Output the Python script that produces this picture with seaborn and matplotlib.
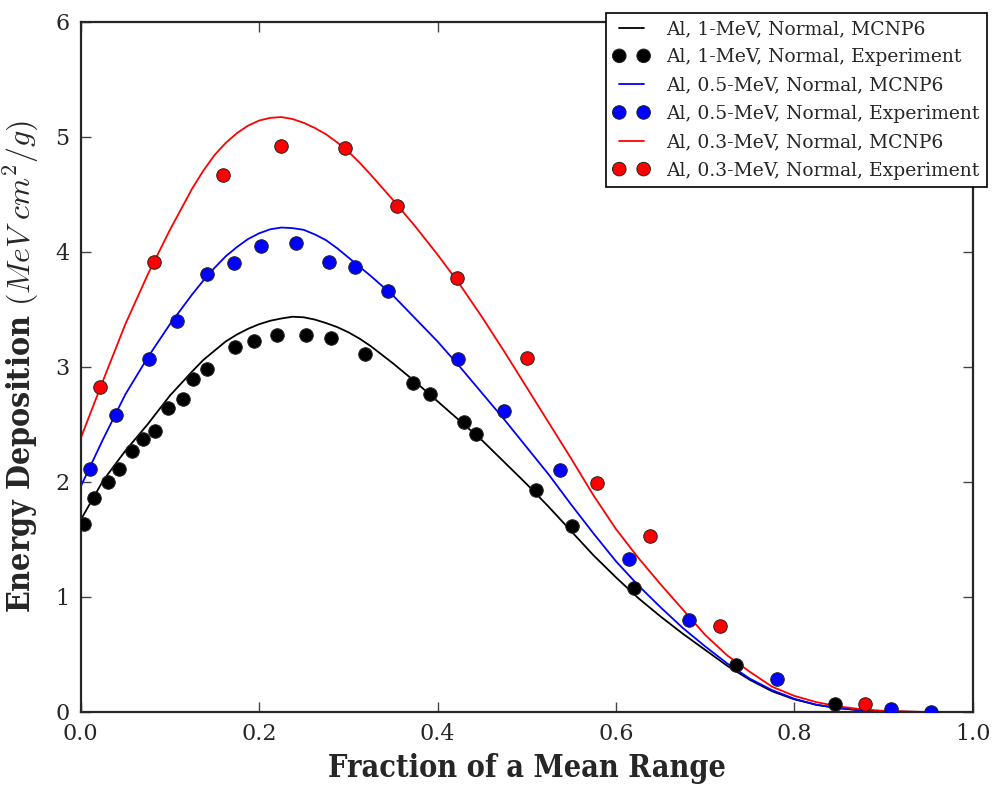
import matplotlib
matplotlib.use("Agg")
import matplotlib.pyplot as plt
import seaborn as sns
import pandas as pd

# ---------------- data ----------------
x_grid = [0.000, 0.025, 0.050, 0.075, 0.100, 0.125, 0.1375, 0.150, 0.1625, 0.175,
          0.1875, 0.200, 0.2125, 0.225, 0.2375, 0.250, 0.2625, 0.275, 0.2875, 0.300,
          0.3125, 0.325, 0.350, 0.375, 0.400, 0.425, 0.450, 0.475,
          0.500, 0.525, 0.550, 0.575, 0.600, 0.625, 0.650, 0.675, 0.700, 0.725,
          0.750, 0.775, 0.800, 0.825, 0.850, 0.875, 0.900, 0.925, 0.950, 0.975, 1.000]

mcnp_1mev = [1.67, 2.01, 2.27, 2.50, 2.75, 2.96, 3.06, 3.14, 3.22, 3.28,
             3.33, 3.37, 3.40, 3.42, 3.435, 3.43, 3.41, 3.38, 3.345, 3.30,
             3.245, 3.18, 3.03, 2.87, 2.70, 2.53, 2.36, 2.17,
             1.98, 1.78, 1.57, 1.36, 1.17, 0.99, 0.83, 0.68, 0.54, 0.40,
             0.28, 0.18, 0.11, 0.062, 0.033, 0.015, 0.006, 0.002, 0.0, 0.0, 0.0]

mcnp_05mev = [1.96, 2.37, 2.76, 3.08, 3.37, 3.63, 3.75, 3.86, 3.96, 4.04,
              4.11, 4.16, 4.195, 4.21, 4.205, 4.19, 4.15, 4.10, 4.03, 3.95,
              3.87, 3.79, 3.62, 3.42, 3.22, 3.00, 2.77, 2.54,
              2.30, 2.06, 1.80, 1.55, 1.31, 1.10, 0.91, 0.73, 0.57, 0.42,
              0.29, 0.19, 0.115, 0.062, 0.033, 0.015, 0.006, 0.002, 0.0, 0.0, 0.0]

mcnp_03mev = [2.38, 2.88, 3.37, 3.80, 4.19, 4.55, 4.705, 4.84, 4.945, 5.03,
              5.095, 5.14, 5.163, 5.17, 5.153, 5.12, 5.075, 5.02, 4.95, 4.87,
              4.775, 4.67, 4.45, 4.22, 3.975, 3.715, 3.43, 3.13,
              2.82, 2.51, 2.20, 1.88, 1.59, 1.34, 1.11, 0.89, 0.67, 0.49,
              0.35, 0.22, 0.14, 0.085, 0.048, 0.024, 0.010, 0.004, 0.0, 0.0, 0.0]

exp_1mev_x = [0.004, 0.015, 0.031, 0.043, 0.058, 0.070, 0.083, 0.098, 0.115, 0.126,
              0.141, 0.173, 0.194, 0.220, 0.252, 0.280, 0.319, 0.372, 0.391, 0.430,
              0.443, 0.510, 0.551, 0.620, 0.735, 0.846]
exp_1mev_y = [1.63, 1.86, 2.00, 2.11, 2.27, 2.37, 2.44, 2.64, 2.72, 2.89,
              2.98, 3.17, 3.22, 3.28, 3.28, 3.25, 3.11, 2.86, 2.76, 2.52,
              2.42, 1.93, 1.62, 1.08, 0.41, 0.07]

exp_05mev_x = [0.010, 0.039, 0.076, 0.108, 0.142, 0.172, 0.202, 0.241, 0.278, 0.307,
               0.344, 0.423, 0.475, 0.537, 0.615, 0.682, 0.780, 0.908, 0.953]
exp_05mev_y = [2.11, 2.58, 3.07, 3.40, 3.81, 3.90, 4.05, 4.08, 3.91, 3.87,
               3.66, 3.07, 2.62, 2.10, 1.33, 0.80, 0.29, 0.03, 0.0]

exp_03mev_x = [0.022, 0.082, 0.159, 0.225, 0.296, 0.355, 0.422, 0.500, 0.579, 0.638,
               0.717, 0.879]
exp_03mev_y = [2.82, 3.91, 4.67, 4.92, 4.90, 4.40, 3.77, 3.08, 1.99, 1.53,
               0.75, 0.07]

line_labels = ["Al, 1-MeV, Normal, MCNP6", "Al, 0.5-MeV, Normal, MCNP6",
               "Al, 0.3-MeV, Normal, MCNP6"]
exp_labels = ["Al, 1-MeV, Normal, Experiment", "Al, 0.5-MeV, Normal, Experiment",
              "Al, 0.3-MeV, Normal, Experiment"]
colors = ["black", "blue", "red"]

x_ticks = [0.0, 0.2, 0.4, 0.6, 0.8, 1.0]
y_ticks = [0, 1, 2, 3, 4, 5, 6]
x_label = "Fraction of a Mean Range"
y_label = r"Energy Deposition $(MeV\ cm^2/g)$"

# ---------------- style ----------------
sns.set_style("ticks")
plt.rcParams["font.family"] = ["DejaVu Serif"]
plt.rcParams["mathtext.fontset"] = "cm"
plt.rcParams["axes.linewidth"] = 1.6
plt.rcParams["xtick.direction"] = "in"
plt.rcParams["ytick.direction"] = "in"
plt.rcParams["xtick.top"] = True
plt.rcParams["ytick.right"] = True

fig = plt.figure(figsize=(9.92, 7.87), dpi=100)
ax = fig.add_axes([0.0814, 0.0953, 0.8992, 0.8773])

curves = [mcnp_1mev, mcnp_05mev, mcnp_03mev]
exps = [(exp_1mev_x, exp_1mev_y), (exp_05mev_x, exp_05mev_y), (exp_03mev_x, exp_03mev_y)]

for i in range(3):
    df_line = pd.DataFrame({"x": x_grid, "y": curves[i]})
    sns.lineplot(data=df_line, x="x", y="y", color=colors[i], lw=1.3,
                 label=line_labels[i], ax=ax, zorder=2, legend=False)
for i in range(3):
    df_exp = pd.DataFrame({"x": exps[i][0], "y": exps[i][1]})
    sns.scatterplot(data=df_exp, x="x", y="y", color=colors[i], s=95,
                    edgecolor="#222222", linewidth=0.7, label=exp_labels[i],
                    ax=ax, zorder=3, legend=False)

ax.set_xlim(0, 1.0)
ax.set_ylim(0, 6)
ax.set_xticks(x_ticks)
ax.set_yticks(y_ticks)
ax.set_xticklabels([f"{v:.1f}" for v in x_ticks])
ax.set_yticklabels([str(v) for v in y_ticks])
ax.tick_params(axis="both", which="major", labelsize=16, length=7, width=1.0,
               color="#444444", pad=8)
ax.set_xlabel(x_label, fontsize=22, fontweight="bold", fontstretch="condensed",
              labelpad=6)
ax.set_ylabel(y_label, fontsize=23, fontweight="bold", fontstretch="condensed",
              labelpad=10)

handles, labels = ax.get_legend_handles_labels()
order = []
for i in range(3):
    order.append(labels.index(line_labels[i]))
    order.append(labels.index(exp_labels[i]))
leg = ax.legend([handles[j] for j in order], [labels[j] for j in order],
                loc="upper right", bbox_to_anchor=(1.016, 1.013), borderaxespad=0,
                fontsize=13.5, scatterpoints=2, scatteryoffsets=[0.5], numpoints=2,
                frameon=True, fancybox=False, framealpha=1, edgecolor="black",
                handlelength=1.9, handletextpad=0.9, labelspacing=0.55,
                borderpad=0.4)
leg.get_frame().set_linewidth(1.2)

fig.savefig("out.png", dpi=100)
